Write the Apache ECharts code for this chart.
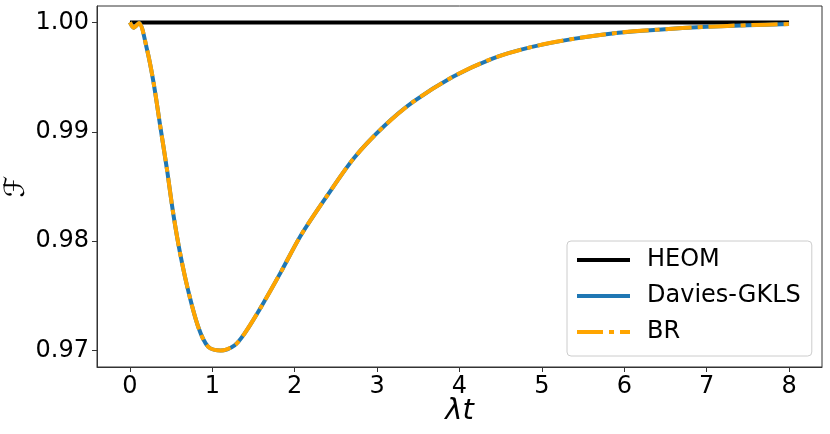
<!DOCTYPE html>
<html>
<head>
<meta charset="utf-8">
<script src="https://cdn.jsdelivr.net/npm/echarts@6/dist/echarts.min.js"></script>
<style>
  html, body { margin: 0; padding: 0; background: #fff; }
  #chart { width: 830px; height: 434px; }
</style>
</head>
<body>
<div id="chart"></div>
<script>
// time axis (lambda t) and fidelity values
const heomT = [0, 1, 2, 3, 4, 5, 6, 7, 8]
const heomF = [1, 1, 1, 1, 1, 1, 1, 1, 1]

const tVals = [0, 0.045, 0.11, 0.2, 0.285, 0.365, 0.446, 0.526, 0.606, 0.707, 0.828, 0.948, 1.1,
  1.27, 1.39, 1.59, 1.83, 2.07, 2.39, 2.72, 3.08, 3.44, 3.92, 4.4, 4.88, 5.4, 5.93, 6.41, 7.0, 7.5, 8.0]
const daviesF = [1.0, 0.99952, 0.99995, 0.99776, 0.99457, 0.99064, 0.98673, 0.98250, 0.97900, 0.97548,
  0.97218, 0.97036, 0.97000, 0.97048, 0.97155, 0.97397, 0.97715, 0.98048, 0.98412, 0.98761, 0.99048,
  0.99275, 0.99503, 0.99670, 0.99776, 0.99852, 0.99906, 0.99934, 0.99960, 0.99975, 0.99985]
const brF = [1.0, 0.99952, 0.99995, 0.99776, 0.99457, 0.99064, 0.98673, 0.98250, 0.97900, 0.97548,
  0.97218, 0.97036, 0.97000, 0.97048, 0.97155, 0.97397, 0.97715, 0.98048, 0.98412, 0.98761, 0.99048,
  0.99275, 0.99503, 0.99670, 0.99776, 0.99852, 0.99906, 0.99934, 0.99960, 0.99975, 0.99985]

const xTicks = [0, 1, 2, 3, 4, 5, 6, 7, 8]
const yTicks = [0.97, 0.98, 0.99, 1.0]

const pairs = (xs, ys) => xs.map((x, i) => [x, ys[i]])
const font = 'DejaVu Sans'
const spine = '#333'

const chart = echarts.init(document.getElementById('chart'))
chart.setOption({
  animation: false,
  textStyle: { fontFamily: font },
  grid: {
    left: 97, right: 8, top: 6, bottom: 67,
    outerBoundsMode: 'none', containLabel: false,
    show: true, borderColor: spine, borderWidth: 1
  },
  legend: {
    left: 567, top: 241,
    orient: 'vertical',
    itemWidth: 53, itemHeight: 20, itemGap: 12,
    padding: [7, 11, 12, 8],
    borderColor: '#ccc', borderWidth: 1, borderRadius: 4,
    backgroundColor: 'rgba(255,255,255,0.8)',
    itemStyle: { opacity: 0 },
    lineStyle: { width: 4 },
    textStyle: { fontSize: 24, color: '#000', fontFamily: font, padding: [0, 0, 0, 12] },
    data: ['HEOM', 'Davies-GKLS', 'BR']
  },
  xAxis: {
    type: 'value', min: -0.4, max: 8.4,
    name: 'λt', nameLocation: 'middle', nameGap: 30, nameMoveOverlap: false,
    nameTextStyle: { fontSize: 29, fontStyle: 'italic', color: '#000', fontFamily: font },
    axisLine: { show: true, onZero: false, lineStyle: { color: spine } },
    axisTick: { show: true, length: 5, lineStyle: { color: spine }, customValues: xTicks },
    axisLabel: { fontSize: 24, color: '#000', margin: 8, customValues: xTicks },
    splitLine: { show: false }
  },
  yAxis: {
    type: 'value', min: 0.9685, max: 1.0015,
    name: 'ℱ', nameLocation: 'middle', nameGap: 66, nameRotate: 90, nameMoveOverlap: false,
    nameTextStyle: { fontSize: 28, fontStyle: 'italic', color: '#000', fontFamily: font },
    axisLine: { show: true, onZero: false, lineStyle: { color: spine } },
    axisTick: { show: true, length: 5, lineStyle: { color: spine }, customValues: yTicks },
    axisLabel: { fontSize: 24, color: '#000', margin: 8, customValues: yTicks,
      formatter: v => v.toFixed(2) },
    splitLine: { show: false }
  },
  series: [
    {
      name: 'HEOM', type: 'line', symbol: 'none',
      data: pairs(heomT, heomF),
      lineStyle: { color: '#000', width: 4 }, itemStyle: { color: '#000' }
    },
    {
      name: 'Davies-GKLS', type: 'line', symbol: 'none', smooth: 0.3,
      data: pairs(tVals, daviesF),
      lineStyle: { color: '#1f77b4', width: 4 }, itemStyle: { color: '#1f77b4' }
    },
    {
      name: 'BR', type: 'line', symbol: 'none', smooth: 0.3,
      data: pairs(tVals, brF),
      lineStyle: { color: '#ffa500', width: 4, type: [26, 6, 5, 6] }, itemStyle: { color: '#ffa500' }
    }
  ]
})
</script>
</body>
</html>
